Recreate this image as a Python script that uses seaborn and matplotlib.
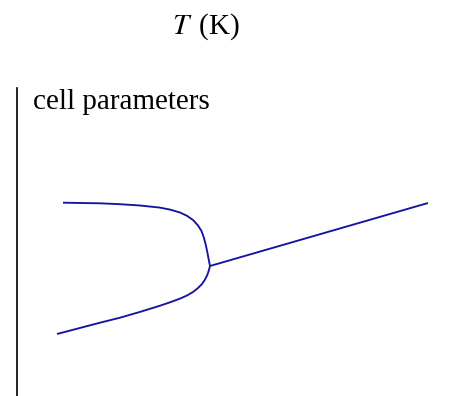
import matplotlib
matplotlib.use("Agg")
import matplotlib.pyplot as plt
import seaborn as sns
import pandas as pd

sns.set_theme(style="white")
plt.rcParams["font.family"] = ["Liberation Serif", "DejaVu Serif"]
plt.rcParams["mathtext.fontset"] = "stix"

# Low-temperature phase: two lattice parameters (c above, a below)
T_upper = [92, 166, 206, 246, 286, 306, 326, 340, 352, 362, 369, 374,
           377.6, 380.6, 383.2, 386]
c_upper = [4.0933, 4.0927, 4.0918, 4.0905, 4.0884, 4.0864, 4.0835, 4.0802,
           4.076, 4.0705, 4.065, 4.058, 4.051, 4.044, 4.037, 4.030]
T_lower = [80, 166, 206, 246, 286, 306, 326, 340, 352, 362, 370, 376,
           380.6, 383.6, 386]
a_lower = [3.962, 3.9733, 3.9783, 3.9841, 3.9903, 3.9937, 3.9974, 4.0005,
           4.004, 4.008, 4.012, 4.0165, 4.021, 4.0255, 4.030]
# High-temperature phase: single lattice parameter
T_high = [386, 822]
a_high = [4.030, 4.093]

frames = [
    pd.DataFrame({"T": T_upper, "p": c_upper, "branch": "c"}),
    pd.DataFrame({"T": T_lower, "p": a_lower, "branch": "a"}),
    pd.DataFrame({"T": T_high, "p": a_high, "branch": "cubic"}),
]
df = pd.concat(frames, ignore_index=True)

fig = plt.figure(figsize=(4.51, 3.96), dpi=100)
ax = fig.add_axes([17 / 451, 0.0, 434 / 451, 308 / 396])

line_color = "#1414a0"
sns.lineplot(data=df, x="T", y="p", units="branch", estimator=None, sort=False,
             color=line_color, linewidth=1.35, ax=ax, legend=False)
for ln in ax.get_lines():
    ln.set_solid_joinstyle("round")
    ln.set_solid_capstyle("butt")

ax.set_xlim(0, 868)
ax.set_ylim(3.90, 4.208)
ax.set_xticks([])
ax.set_yticks([])
ax.set_xlabel("")
ax.set_ylabel("")
for side in ["top", "right", "bottom"]:
    ax.spines[side].set_visible(False)
ax.spines["left"].set_color("black")
ax.spines["left"].set_linewidth(1.2)

ax.text(16 / 434, 1 - 21 / 308, "cell parameters", transform=ax.transAxes,
        fontsize=21, color="black", ha="left", va="baseline")

fig.text(206 / 451, 1 - 34 / 396, r"$T\,$ (K)", fontsize=21, color="black",
         ha="center", va="baseline")

fig.savefig("out.png", dpi=100, facecolor="white")
